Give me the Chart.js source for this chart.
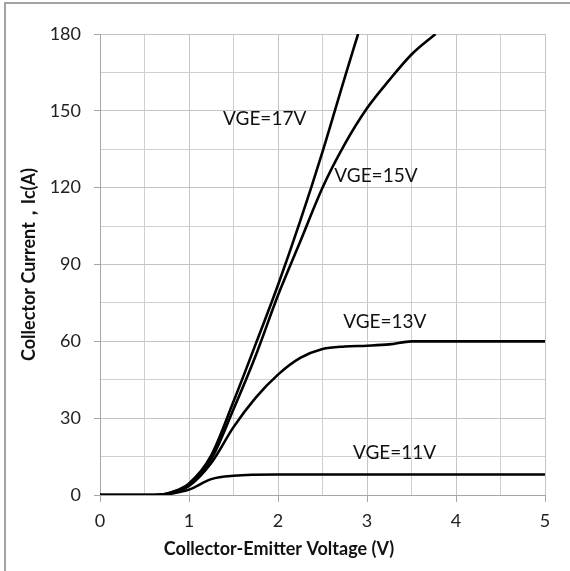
<!DOCTYPE html>
<html>
<head>
<meta charset="utf-8">
<script src="https://cdn.jsdelivr.net/npm/chart.js@4.4.1/dist/chart.umd.min.js"></script>
<style>
body { margin: 0; background: #fff; }
</style>
</head>
<body>
<canvas id="icChart" width="570" height="571"></canvas>
<script>
// Ic vs Vce output curves, one per gate voltage
const vce17 = [0, 0.5, 0.7, 0.8, 1.0, 1.25, 1.5, 1.75, 2.0, 2.25, 2.5, 2.75, 2.9];
const ic17  = [0, 0, 0.2, 1, 4.5, 15.5, 36.5, 59, 82, 107, 134, 163, 180];

const vce15 = [0, 0.5, 0.7, 0.8, 1.0, 1.25, 1.5, 1.75, 2.0, 2.25, 2.5, 2.75, 3.0, 3.25, 3.5, 3.77];
const ic15  = [0, 0, 0.2, 1, 4, 14, 33.5, 54.5, 78, 99, 120, 137, 151, 162, 172, 180];

const vce13 = [0, 0.5, 0.7, 0.8, 1.0, 1.25, 1.5, 1.75, 2.0, 2.25, 2.5, 2.75, 3.0, 3.25, 3.5, 4.0, 5.0];
const ic13  = [0, 0, 0.2, 0.8, 3.5, 12.5, 26.5, 38, 47, 53.5, 57, 58, 58.3, 58.8, 60, 60, 60];

const vce11 = [0, 0.5, 0.7, 0.8, 1.0, 1.25, 1.5, 2.0, 3.0, 4.0, 5.0];
const ic11  = [0, 0, 0, 0.5, 2.1, 6.2, 7.5, 8, 8, 8, 8];

const curveNames = ['VGE=17V', 'VGE=15V', 'VGE=13V', 'VGE=11V'];
const xTicks = [0, 1, 2, 3, 4, 5];
const yTicks = [0, 30, 60, 90, 120, 150, 180];

const xTitle = 'Collector-Emitter Voltage (V)';
const yTitle = 'Collector Current，Ic(A)';

function toPoints(xs, ys) {
    return xs.map((x, i) => ({ x: x, y: ys[i] }));
}

const FONT = 'Lato, "Open Sans", sans-serif';
const majorGrid = '#c4c4c4';
const minorGrid = '#cfcfcf';

// frame lines, axis titles and the VGE labels next to each curve
const decorations = {
    id: 'decorations',
    beforeDraw(chart) {
        const c = chart.ctx;
        c.save();
        c.strokeStyle = '#a3a3a3';
        c.lineWidth = 2;
        c.beginPath();
        c.moveTo(5, 571);
        c.lineTo(5, 3);
        c.lineTo(570, 3);
        c.stroke();
        c.restore();
    },
    afterDraw(chart) {
        const c = chart.ctx;
        const xs = chart.scales.x, ys = chart.scales.y;
        c.save();
        c.fillStyle = '#111';
        c.textAlign = 'center';
        c.textBaseline = 'middle';

        // curve labels, anchored in data units
        const spots = [[1.85, 147], [3.1, 124.5], [3.2, 67.5], [3.31, 16.3]];
        c.font = '19px ' + FONT;
        curveNames.forEach((name, i) => {
            c.fillText(name, xs.getPixelForValue(spots[i][0]), ys.getPixelForValue(spots[i][1]));
        });

        c.font = 'bold 18px ' + FONT;
        c.fillText(xTitle, 279, 549);

        c.translate(29, ys.top + (ys.bottom - ys.top) / 2);
        c.rotate(-Math.PI / 2);
        c.fillText(yTitle, 0, 0);
        c.restore();
    }
};

const ctx = document.getElementById('icChart').getContext('2d');

const data = {
    datasets: [
        { label: curveNames[0], data: toPoints(vce17, ic17) },
        { label: curveNames[1], data: toPoints(vce15, ic15) },
        { label: curveNames[2], data: toPoints(vce13, ic13) },
        { label: curveNames[3], data: toPoints(vce11, ic11) }
    ].map(d => Object.assign(d, {
        borderColor: '#000',
        borderWidth: 2.6,
        pointRadius: 0,
        fill: false,
        cubicInterpolationMode: 'monotone'
    }))
};

const options = {
    responsive: false,
    animation: false,
    layout: { padding: { left: 0, top: 34, right: 25, bottom: 0 } },
    plugins: {
        legend: { display: false },
        tooltip: { enabled: false }
    },
    scales: {
        x: {
            type: 'linear',
            min: 0,
            max: 5,
            afterFit: scale => { scale.height = 76; },
            border: { color: '#a6a6a6', width: 1 },
            grid: {
                color: c => xTicks.includes(c.tick.value) ? majorGrid : minorGrid,
                dash: c => xTicks.includes(c.tick.value) ? [] : [2, 2],
                tickColor: c => xTicks.includes(c.tick.value) ? '#a6a6a6' : 'rgba(0,0,0,0)',
                tickLength: 7
            },
            ticks: {
                stepSize: 0.5,
                maxRotation: 0,
                padding: 8,
                color: '#222',
                font: { family: FONT, size: 18 },
                callback: v => xTicks.includes(v) ? v : ''
            }
        },
        y: {
            type: 'linear',
            min: 0,
            max: 180,
            afterFit: scale => { scale.width = 100; },
            border: { color: '#a6a6a6', width: 1 },
            grid: {
                color: c => yTicks.includes(c.tick.value) ? majorGrid : minorGrid,
                dash: c => yTicks.includes(c.tick.value) ? [] : [2, 2],
                tickColor: c => yTicks.includes(c.tick.value) ? '#a6a6a6' : 'rgba(0,0,0,0)',
                tickLength: 6
            },
            ticks: {
                stepSize: 15,
                padding: 13,
                color: '#222',
                font: { family: FONT, size: 18 },
                callback: v => yTicks.includes(v) ? v : ''
            }
        }
    }
};

const chart = new Chart(ctx, {
    type: 'line',
    data: data,
    options: options,
    plugins: [decorations]
});
</script>
</body>
</html>
